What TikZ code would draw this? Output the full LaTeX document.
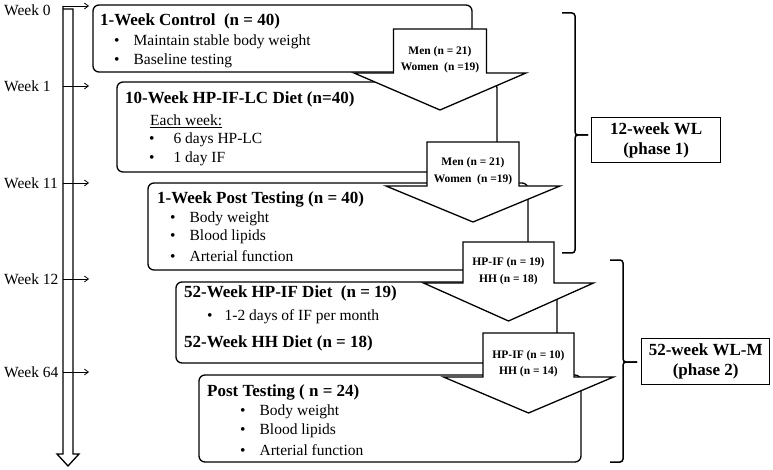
\documentclass[tikz,border=0pt]{standalone}
\usepackage{fontspec}
\setmainfont{Liberation Serif}
\usetikzlibrary{arrows.meta}
\begin{document}
\begin{tikzpicture}[x=1pt,y=-1pt,
  box/.style={draw, line width=1.3pt, rounded corners=6pt, fill=white, anchor=north west, inner sep=0pt, outer sep=0pt},
  pbox/.style={draw, line width=1.3pt, anchor=north west, inner sep=0pt, align=center, font=\fontsize{17}{20}\selectfont\bfseries},
  ttl/.style={anchor=west, inner sep=0pt, font=\fontsize{17}{20}\selectfont\bfseries},
  txt/.style={anchor=west, inner sep=0pt, font=\fontsize{15.5}{18}\selectfont},
  wk/.style={anchor=west, inner sep=0pt, font=\fontsize{15.5}{17}\selectfont},
  lbl/.style={inner sep=0pt, align=center, font=\fontsize{11.5}{16.5}\selectfont\bfseries},
  blk/.style={draw, line width=1.3pt, fill=white, line join=miter},
  brc/.style={draw, line width=1.5pt, rounded corners=3pt},
  tl/.style={draw, line width=1.3pt, line join=miter},
  wkarr/.style={draw, line width=0.8pt, -{Straight Barb[length=4pt,width=6pt]}}
]
\useasboundingbox (0,0) rectangle (773,470);

% ---- boxes ----
\node[box, minimum width=379, minimum height=67] (b1) at (93,5) {};
\node[box, minimum width=380, minimum height=90] (b2) at (117,82) {};
\node[box, minimum width=380, minimum height=87] (b3) at (148,183) {};
\node[box, minimum width=381, minimum height=81] (b4) at (176,282) {};
\node[box, minimum width=382, minimum height=87] (b5) at (199,375) {};

% ---- box texts ----
\node[ttl] (t1) at (100,21) {1-Week Control\ \ (n = 40)};
\node[txt] (t1a) at (114,42) {•\hspace{14pt}Maintain stable body weight};
\node[txt] (t1b) at (114,61) {•\hspace{14pt}Baseline testing};

\node[ttl] (t2) at (125,99) {10-Week HP-IF-LC Diet (n=40)};
\node[txt] (t2a) at (150,121) {\underline{Each week:}};
\node[txt] (t2b) at (149,140) {•\hspace{19pt}6 days HP-LC};
\node[txt] (t2c) at (149,159) {•\hspace{19pt}1 day IF};

\node[ttl] (t3) at (157,199) {1-Week Post Testing (n = 40)};
\node[txt] (t3a) at (170,219) {•\hspace{14pt}Body weight};
\node[txt] (t3b) at (170,237) {•\hspace{14pt}Blood lipids};
\node[txt] (t3c) at (170,256) {•\hspace{14pt}Arterial function};

\node[ttl] (t4) at (184,293) {52-Week HP-IF Diet\ \ (n = 19)};
\node[txt] (t4a) at (207,317) {•\hspace{12pt}1-2 days of IF per month};
\node[ttl] (t4b) at (184,343) {52-Week HH Diet (n = 18)};

\node[ttl] (t5) at (207,392) {Post Testing ( n = 24)};
\node[txt] (t5a) at (240,412) {•\hspace{14pt}Body weight};
\node[txt] (t5b) at (240,431) {•\hspace{14pt}Blood lipids};
\node[txt] (t5c) at (240,450) {•\hspace{14pt}Arterial function};

% ---- block arrows ----
% cx / shaft half width / shaft top / shaft bottom / head half width / tip y
\foreach \cx/\sw/\st/\sb/\hw/\tp [count=\i] in {440/46.5/29/73/86/110, 473/46/142/186/87/222, 508.5/45.5/242/283/85/321, 528.5/45.5/333/377/85/413}{
  \path[blk] (\cx-\sw,\st) -- (\cx+\sw,\st) -- (\cx+\sw,\sb) -- (\cx+\hw,\sb) -- (\cx,\tp) -- (\cx-\hw,\sb) -- (\cx-\sw,\sb) -- cycle;
}
\node[lbl] (l1) at (440,59.5) {Men (n = 21)\\Women\ \ (n =19)};
\node[lbl] (l2) at (473,171) {Men (n = 21)\\Women\ \ (n =19)};
\node[lbl] (l3) at (508.5,271) {HP-IF (n = 19)\\HH (n = 18)};
\node[lbl] (l4) at (528.5,363.5) {HP-IF (n = 10)\\HH (n = 14)};

% ---- braces ----
\path[brc] (562,13) -- (575,13) -- (575,135) -- (588,135);
\path[brc] (588,135) -- (575,135) -- (575,253) -- (562,253);
\path[brc] (610,260) -- (623,260) -- (623,362) -- (637,362);
\path[brc] (637,362) -- (623,362) -- (623,462) -- (610,462);

% ---- phase boxes ----
\node[pbox, minimum width=129, minimum height=45] (p1) at (591,117) {12-week WL\\(phase 1)};
\node[pbox, minimum width=128, minimum height=46] (p2) at (641,338) {52-week WL-M\\(phase 2)};

% ---- timeline ----
\path[tl] (63,6) -- (63,454) -- (57,454) -- (68,466) -- (79,454) -- (73,454) -- (73,9) -- (63,9);

\node[wk] (w0) at (4,10) {Week 0};
\node[wk] (w1) at (4,86) {Week 1};
\node[wk] (w11) at (4,183) {Week 11};
\node[wk] (w12) at (4,279) {Week 12};
\node[wk] (w64) at (4,372) {Week 64};

\coordinate (a0s) at (63,6);   \coordinate (a0e) at (89,6);
\coordinate (a1s) at (63,86);  \coordinate (a1e) at (89,86);
\coordinate (a11s) at (63,183); \coordinate (a11e) at (89,183);
\coordinate (a12s) at (63,279); \coordinate (a12e) at (89,279);
\coordinate (a64s) at (63,372); \coordinate (a64e) at (89,372);
\draw[wkarr] (a0s) -- (a0e);
\draw[wkarr] (a1s) -- (a1e);
\draw[wkarr] (a11s) -- (a11e);
\draw[wkarr] (a12s) -- (a12e);
\draw[wkarr] (a64s) -- (a64e);
\end{tikzpicture}
\end{document}
